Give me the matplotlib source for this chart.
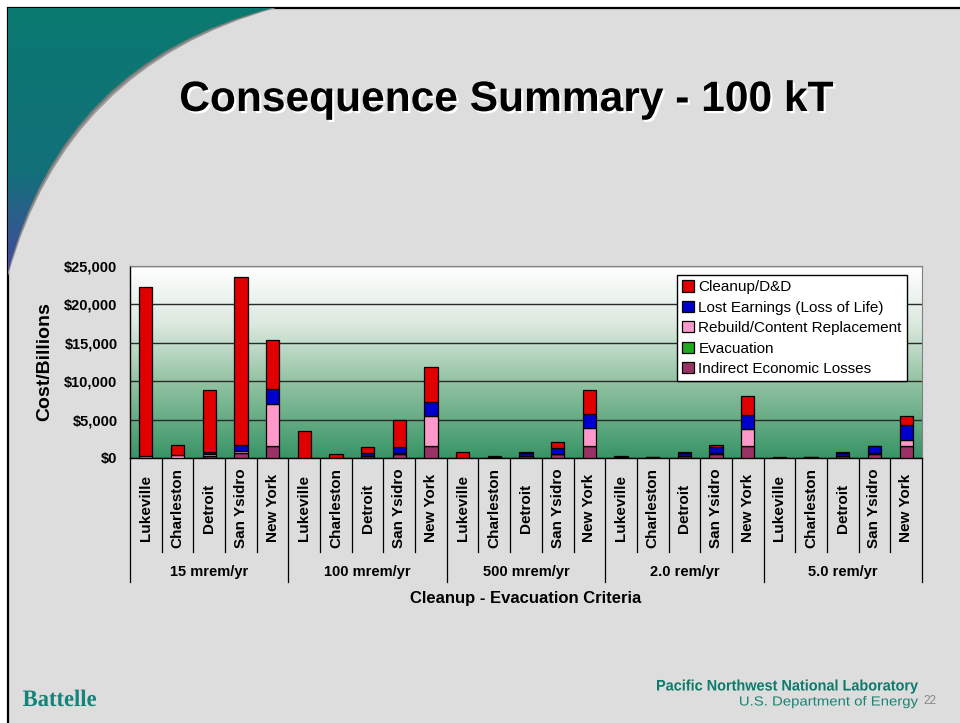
import matplotlib
matplotlib.use("Agg")
import matplotlib.pyplot as plt
import matplotlib.transforms as mtransforms
import matplotlib.patheffects as pe
from matplotlib.colors import LinearSegmentedColormap
from matplotlib.path import Path
from matplotlib.patches import PathPatch, Rectangle
from matplotlib.textpath import TextPath
from matplotlib.font_manager import FontProperties
import numpy as np

plt.rcParams["font.family"] = ["Liberation Sans", "DejaVu Sans"]

# ---- data (billions of dollars) ----
cities = ["Lukeville", "Charleston", "Detroit", "San Ysidro", "New York"]
criteria = ["15 mrem/yr", "100 mrem/yr", "500 mrem/yr", "2.0 rem/yr", "5.0 rem/yr"]

indirect = [50, 50, 300, 600, 1520,
            0, 50, 250, 560, 1520,
            0, 70, 200, 520, 1520,
            50, 50, 200, 540, 1520,
            30, 50, 200, 560, 1520]
evacuation = [0] * 25
rebuild = [200, 300, 200, 260, 5550,
           0, 0, 50, 50, 3990,
           0, 0, 50, 0, 2340,
           0, 0, 60, 50, 2210,
           0, 0, 50, 50, 870]
lost_earnings = [50, 20, 300, 780, 1910,
                 0, 0, 300, 780, 1820,
                 0, 50, 450, 820, 1910,
                 50, 50, 430, 900, 1910,
                 30, 50, 450, 900, 1860]
cleanup = [21930, 1270, 8080, 21970, 6410,
           3510, 430, 830, 3550, 4550,
           740, 100, 40, 690, 3120,
           100, 50, 50, 150, 2470,
           40, 50, 40, 10, 1170]

series = [
    ("Indirect Economic Losses", indirect, "#993366"),
    ("Evacuation", evacuation, "#1FAA1F"),
    ("Rebuild/Content Replacement", rebuild, "#FF99CC"),
    ("Lost Earnings (Loss of Life)", lost_earnings, "#0000CC"),
    ("Cleanup/D&D", cleanup, "#E00000"),
]

W, H = 960, 723
fig = plt.figure(figsize=(W / 100, H / 100), dpi=100)
fig.patch.set_facecolor("white")

# pixel-space layer for the slide decoration
deco = fig.add_axes([0, 0, 1, 1], zorder=0)
deco.set_xlim(0, W)
deco.set_ylim(H, 0)
deco.axis("off")

deco.add_patch(Rectangle((8, 8), W, H, facecolor="#DDDDDD", edgecolor="black", lw=1.6))


def swoosh(dx=0, dy=0):
    verts = [(8, 8), (272 + dx, 8), (62 + dx, 62 + dy), (8, 272 + dy), (8, 8)]
    codes = [Path.MOVETO, Path.LINETO, Path.CURVE3, Path.CURVE3, Path.CLOSEPOLY]
    return Path(verts, codes)


def squeezed_text(s, x0, x1, baseline, cap, color, family="Liberation Sans", weight="bold"):
    # text fitted to a pixel width, for the condensed footer fonts
    tp = TextPath((0, 0), s, size=1, prop=FontProperties(family=family, weight=weight))
    ext = tp.get_extents()
    sx = (x1 - x0) / ext.width
    sy = cap / 0.72
    t = mtransforms.Affine2D().translate(-ext.x0, 0).scale(sx, -sy).translate(x0, baseline)
    deco.add_patch(PathPatch(t.transform_path(tp), facecolor=color, edgecolor="none", zorder=3))


deco.add_patch(PathPatch(swoosh(4, 4), facecolor="#9a9a9a", edgecolor="none", zorder=1))
deco.add_patch(PathPatch(swoosh(2, 2), facecolor="#7a7a7a", edgecolor="none", zorder=1))
teal = PathPatch(swoosh(), facecolor="none", edgecolor="none", zorder=1)
deco.add_patch(teal)
sw_cmap = LinearSegmentedColormap.from_list(
    "sw", [(0, "#0A7A70"), (0.6, "#13707A"), (1.0, "#4A46A0")])
grad = np.linspace(0, 1, 256).reshape(-1, 1)
im = deco.imshow(grad, cmap=sw_cmap, extent=(8, 280, 280, 8), aspect="auto", zorder=2)
im.set_clip_path(teal)
deco.set_xlim(0, W)
deco.set_ylim(H, 0)

# title with white drop shadow
deco.text(506, 100, "Consequence Summary - 100 kT", ha="center", va="center",
          fontsize=30.6, fontweight="bold", color="black",
          path_effects=[pe.SimplePatchShadow(offset=(1.6, -1.6), shadow_rgbFace="white", alpha=1),
                        pe.Normal()])

# footer
squeezed_text("Battelle", 23, 96, 706, 17, "#14847A", family="Liberation Serif")
squeezed_text("Pacific Northwest National Laboratory", 657, 918, 690.5, 11, "#0E7A6C")
squeezed_text("U.S. Department of Energy", 740, 918, 705.5, 9.5, "#1C8272", weight="normal")
deco.text(923, 701, "22", ha="left", va="center", fontsize=8.5, color="#888888")

# ---- chart ----
L, R, T, B = 130, 922, 266, 458
ax = fig.add_axes([L / W, 1 - B / H, (R - L) / W, (B - T) / H], zorder=2)

bg_cmap = LinearSegmentedColormap.from_list(
    "bg", [(0, "#FFFFFF"), (0.3, "#DCE9DF"), (0.6, "#93C3A3"), (1.0, "#389466")])
ax.imshow(grad, cmap=bg_cmap, extent=(-0.5, 24.5, 0, 25000), aspect="auto", zorder=0)

x = np.arange(len(cleanup))
bottom = np.zeros(len(x))
handles = {}
for name, vals, col in series:
    v = np.asarray(vals, dtype=float)
    bars = ax.bar(x, v, 0.42, bottom=bottom, color=col, edgecolor="black", lw=0.9,
                  zorder=3, label=name)
    handles[name] = bars
    bottom += v

ax.set_xlim(-0.5, 24.5)
ax.set_ylim(0, 25000)
ax.set_yticks(range(0, 25001, 5000))
ax.set_yticklabels([f"${v:,}" for v in range(0, 25001, 5000)], fontsize=10.5, fontweight="bold")
ax.tick_params(axis="y", length=0, pad=9)
ax.set_xticks([])
ax.grid(axis="y", color="#2A2A2A", lw=1.0, zorder=1)
ax.set_axisbelow(True)
for s in ("top", "right"):
    ax.spines[s].set_color("#808080")
for s in ("left", "bottom"):
    ax.spines[s].set_color("black")
    ax.spines[s].set_linewidth(1.0)

ax.set_ylabel("Cost/Billions", fontsize=14, fontweight="bold", labelpad=8)

order = ["Cleanup/D&D", "Lost Earnings (Loss of Life)", "Rebuild/Content Replacement",
         "Evacuation", "Indirect Economic Losses"]
leg = ax.legend([handles[n] for n in order], order, loc="upper right",
                bbox_to_anchor=((907 - L) / (R - L), (B - 275) / (B - T)),
                fontsize=11, frameon=True, fancybox=False, edgecolor="black",
                framealpha=1, handlelength=0.75, handleheight=0.75, handletextpad=0.3,
                labelspacing=0.42, borderpad=0.35, borderaxespad=0)
leg.get_frame().set_linewidth(1.0)
leg.set_zorder(5)

# category axis: city labels, group labels, separators
tr = mtransforms.blended_transform_factory(ax.transData, deco.transData)
n_c = len(cities)
for gi, crit in enumerate(criteria):
    for ci, city in enumerate(cities):
        i = gi * n_c + ci
        deco.text(i, 508, city, transform=tr, rotation=90, ha="center", va="center",
                  fontsize=11, fontweight="bold")
        if ci > 0:
            deco.plot([i - 0.5, i - 0.5], [B, 552], transform=tr, color="black", lw=0.9)
    deco.text(gi * n_c + (n_c - 1) / 2, 572, crit, transform=tr, ha="center", va="center",
              fontsize=10.5, fontweight="bold")
    deco.plot([gi * n_c - 0.5] * 2, [B, 582], transform=tr, color="black", lw=0.9)
deco.plot([len(x) - 0.5] * 2, [B, 582], transform=tr, color="black", lw=0.9)

deco.text((L + R) / 2, 599, "Cleanup - Evacuation Criteria", ha="center", va="center",
          fontsize=12, fontweight="bold")

fig.savefig("out.png", dpi=100, facecolor=fig.get_facecolor())
